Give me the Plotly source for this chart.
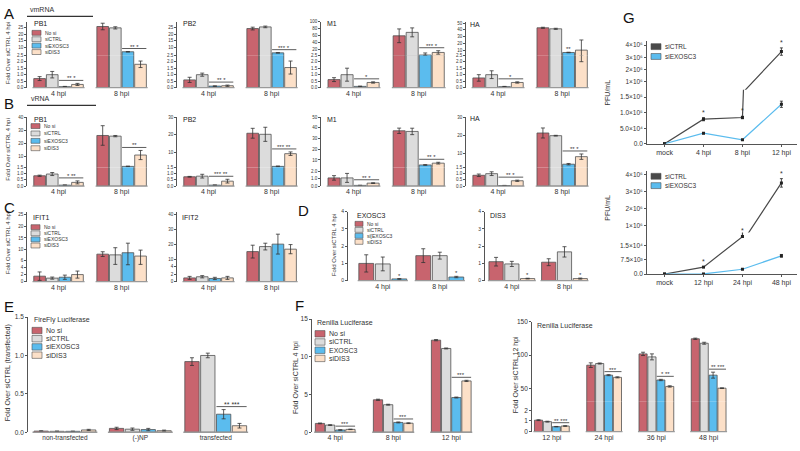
import plotly.graph_objects as go

W, H = 800, 451

# ---------------- categories / names ----------------
SERIES = ["No si", "siCTRL", "siEXOSC3", "siDIS3"]
SERIES_F = ["No si", "siCTRL", "EXOSC3", "siDIS3"]
SERIES_D_EXO = ["No si", "siCTRL", "siEXOSC3"]
SERIES_D_DIS = ["No si", "siCTRL", "siDIS3"]
HPI = ["4 hpi", "8 hpi"]
E_GROUPS = ["non-transfected", "(-)NP", "transfected"]
F_LEFT_GROUPS = ["4 hpi", "8 hpi", "12 hpi"]
F_RIGHT_GROUPS = ["12 hpi", "24 hpi", "36 hpi", "48 hpi"]
G_TOP_CATS = ["mock", "4 hpi", "8 hpi", "12 hpi"]
G_BOT_CATS = ["mock", "12 hpi", "24 hpi", "48 hpi"]
G_SERIES = ["siCTRL", "siEXOSC3"]

# ---------------- values (rows = series, cols = groups) ----------------
# A: vmRNA
vm_PB1 = [[0.70, 25.5], [1.00, 24.5], [0.08, 7.0], [0.25, 1.8]]
vm_PB1_err = [[0.15, 2.4], [0.25, 0.8], [0.02, 0.2], [0.08, 0.25]]
vm_PB2 = [[0.60, 24.0], [1.00, 25.2], [0.12, 6.2], [0.15, 1.55]]
vm_PB2_err = [[0.20, 1.0], [0.12, 0.6], [0.02, 0.15], [0.05, 0.5]]
vm_M1 = [[0.62, 59.0], [1.00, 69.0], [0.10, 3.0], [0.40, 10.5]]
vm_M1_err = [[0.15, 20.0], [0.50, 13.0], [0.02, 6.0], [0.05, 5.0]]
vm_M1_errm = [None, None, [0.02, 0.5], None]
vm_HA = [[0.75, 43.0], [1.00, 41.5], [0.08, 6.5], [0.40, 10.0]]
vm_HA_err = [[0.25, 0.8], [0.30, 0.8], [0.02, 0.4], [0.05, 15.0]]
vm_HA_errm = [None, None, None, [0.05, 8.0]]
# B: vRNA
v_PB1 = [[0.83, 26.0], [0.97, 25.5], [0.08, 2.3], [0.30, 11.0]]
v_PB1_err = [[0.05, 7.5], [0.12, 0.5], [0.01, 0.2], [0.12, 3.5]]
v_PB2 = [[0.75, 20.9], [0.80, 20.3], [0.08, 2.1], [0.40, 9.3]]
v_PB2_err = [[0.03, 2.8], [0.15, 4.0], [0.01, 0.2], [0.15, 1.0]]
v_M1 = [[1.10, 37.3], [1.10, 36.7], [0.10, 5.3], [0.40, 7.0]]
v_M1_err = [[0.30, 2.5], [0.60, 3.0], [0.02, 0.3], [0.05, 0.8]]
v_HA = [[0.87, 21.2], [1.00, 19.7], [0.05, 3.8], [0.43, 8.0]]
v_HA_err = [[0.10, 2.8], [0.15, 0.2], [0.01, 0.4], [0.05, 1.5]]
# C: IFIT
IFIT1 = [[1.55, 8.2], [1.00, 7.9], [1.25, 8.8], [2.00, 7.4]]
IFIT1_err = [[1.2, 1.0], [0.3, 3.0], [0.6, 4.0], [1.0, 2.5]]
IFIT2 = [[1.00, 15.4], [1.30, 18.7], [0.85, 20.3], [1.00, 17.0]]
IFIT2_err = [[0.4, 4.2], [0.3, 2.2], [0.3, 6.5], [0.4, 3.0]]
# D
D_EXOSC3 = [[1.00, 1.45], [0.97, 1.45], [0.10, 0.21]]
D_EXOSC3_err = [[0.50, 0.40], [0.40, 0.20], [0.02, 0.04]]
D_DIS3 = [[1.10, 1.07], [0.97, 1.67], [0.12, 0.12]]
D_DIS3_err = [[0.25, 0.20], [0.15, 0.30], [0.02, 0.03]]
# E
E_vals = [[0.015, 0.05, 0.92], [0.012, 0.04, 1.00], [0.012, 0.035, 0.235], [0.03, 0.02, 0.085]]
E_err = [[0.004, 0.015, 0.05], [0.004, 0.015, 0.03], [0.003, 0.015, 0.06], [0.008, 0.008, 0.03]]
# F
F_left = [[1.17, 4.3, 12.2], [0.95, 3.65, 11.1], [0.30, 1.3, 4.6], [0.38, 1.2, 6.8]]
F_left_err = [[0.05, 0.08, 0.08], [0.05, 0.06, 0.06], [0.03, 0.06, 0.06], [0.03, 0.05, 0.08]]
F_right = [[1.07, 85.0, 102.0, 124.7], [0.93, 87.5, 97.5, 118.0],
           [0.46, 70.0, 62.7, 70.0], [0.52, 66.7, 53.0, 50.4]]
F_right_err = [[0.04, 3.5, 2.5, 1.0], [0.04, 0.8, 4.5, 1.5],
               [0.02, 0.8, 1.0, 4.5], [0.03, 0.8, 1.0, 0.5]]
# G
G_top = [[0, 7.9e4, 8.45e4, 3.47e6], [0, 3.4e4, 1.3e4, 1.27e5]]
G_top_err = [[0, 5e3, 4e3, 3e5], [0, 2e3, 1e3, 1e4]]
G_bot = [[0, 3.6e3, 1.95e4, 3.51e6], [0, 50, 2.5e3, 9.5e3]]
G_bot_err = [[0, 200, 300, 2.5e5], [0, 20, 150, 700]]

# ---------------- styling ----------------
RED, GRAY, BLUE, PEACH = "#c8646e", "#dcdcdc", "#5bbcee", "#fce0c8"
COLORS = [RED, GRAY, BLUE, PEACH]
G_COLORS = ["#4a4a4a", "#5bbcee"]
OUTLINE = "#505050"
INK = "#333333"
AXC = "#555555"
FONT = "Liberation Sans, Arial, sans-serif"

fig = go.Figure()
layout_axes = {}
shapes, annotations = [], []
_n = [0]


def fx(x):
    return x / W


def fy(y):
    return 1 - y / H


def axis_pair(xpx, ypx, xrange, yrange, ytv, ytt, ysize, show_x=False, xsize=7, xline=False, xticks=''):
    _n[0] += 1
    n = _n[0]
    s = '' if n == 1 else str(n)
    xa = dict(domain=[fx(xpx[0]), fx(xpx[1])], range=list(xrange), anchor='y' + s,
              showgrid=False, zeroline=False, type='category')
    if show_x:
        xa.update(showticklabels=True, tickfont=dict(size=xsize, color=INK), ticks=xticks,
                  showline=xline, linecolor=AXC, linewidth=1, ticklen=2, tickcolor=AXC)
    else:
        xa.update(showticklabels=False, ticks='', showline=False)
    ya = dict(domain=[fy(ypx[1]), fy(ypx[0])], range=list(yrange), anchor='x' + s,
              showgrid=False, zeroline=False, showline=True, linecolor=AXC, linewidth=0.8,
              ticks='outside', ticklen=2, tickwidth=0.6, tickcolor=AXC,
              tickvals=ytv, ticktext=ytt, tickfont=dict(size=ysize, color=INK))
    layout_axes['xaxis' + s] = xa
    layout_axes['yaxis' + s] = ya
    return 'x' + s, 'y' + s


def seg(y, r, tv, tt=None):
    return dict(y=y, r=r, tv=tv, tt=tt if tt is not None else [str(v) for v in tv])


def pick_seg(segs, v):
    idx = 0
    for i, s in enumerate(segs):
        if i > 0 and v >= s['r'][0]:
            idx = i
    return idx


def bar_panel(xpx, segs, xrange, groups, names, colors, vals, errs, pitch, bw,
              sigs=(), errs_minus=None, gsize=7, ysize=4.5, ssize=6):
    ns = len(vals)
    offs = [(k - (ns - 1) / 2) * pitch for k in range(ns)]
    refs = []
    for i, s in enumerate(segs):
        xr, yr = axis_pair(xpx, s['y'], xrange, s['r'], s['tv'], s['tt'], ysize,
                           show_x=(i == 0), xsize=gsize)
        refs.append((xr, yr))
        lo = s['r'][0]
        for k in range(ns):
            em = errs[k]
            if errs_minus is not None and errs_minus[k] is not None:
                em = errs_minus[k]
            # in an upper (broken) segment, leave out bars that end below it
            keep = [i == 0 or v > lo for v in vals[k]]
            yv = [v if kp else None for v, kp in zip(vals[k], keep)]
            ep = [e if kp else 0 for e, kp in zip(errs[k], keep)]
            epm = [e if kp else 0 for e, kp in zip(em, keep)]
            fig.add_trace(go.Bar(
                x=groups, y=yv, name=names[k], offset=offs[k] - bw / 2, width=bw,
                xaxis=xr, yaxis=yr, showlegend=False,
                marker=dict(color=colors[k], line=dict(color=OUTLINE, width=0.8)),
                error_y=dict(type='data', symmetric=False, array=ep, arrayminus=epm,
                             color=INK, thickness=0.8, width=2)))
    xr0, yr0 = refs[0]
    for g in range(len(groups)):
        shapes.append(dict(type='line', xref=xr0, yref=yr0 + ' domain',
                           x0=g + offs[0] - bw / 2 - 0.02, x1=g + offs[-1] + bw / 2 + 0.02,
                           y0=0, y1=0, line=dict(color='#9a9a9a', width=1.3)))
    for g, txt, bars in sigs:
        anchor = max(vals[b][g] + errs[b][g] for b in bars)
        xr, yr = refs[pick_seg(segs, anchor)]
        x0 = g + offs[bars[0]] - bw / 2
        x1 = g + offs[bars[-1]] + bw / 2
        if len(bars) > 1:
            shapes.append(dict(type='line', xref=xr, yref=yr, x0=x0, x1=x1,
                               ysizemode='pixel', yanchor=anchor, y0=3, y1=3,
                               line=dict(color=INK, width=0.8)))
        annotations.append(dict(x=(x0 + x1) / 2, y=anchor, xref=xr, yref=yr, text=txt,
                                showarrow=False, yanchor='bottom',
                                yshift=0 if len(bars) > 1 else -2,
                                font=dict(size=ssize, color=INK)))
    return refs


def line_panel(xpx, segs, xrange, cats, names, colors, vals, errs, ysize=6.5, xsize=7):
    refs = []
    for i, s in enumerate(segs):
        xr, yr = axis_pair(xpx, s['y'], xrange, s['r'], s['tv'], s['tt'], ysize,
                           show_x=(i == 0), xsize=xsize, xline=(i == 0), xticks='outside')
        refs.append((xr, yr))
        for k in range(len(vals)):
            fig.add_trace(go.Scatter(
                x=cats, y=vals[k], name=names[k], mode='lines+markers',
                xaxis=xr, yaxis=yr, showlegend=False,
                line=dict(color=colors[k], width=1.2),
                marker=dict(size=3, color='#222222', symbol='square'),
                error_y=dict(type='data', array=errs[k], color='#222222', thickness=0.8, width=1.5)))
    for g in range(1, len(cats)):
        anchor = vals[0][g] + errs[0][g]
        xr, yr = refs[pick_seg(segs, anchor)]
        annotations.append(dict(x=cats[g], y=anchor, xref=xr, yref=yr, text='*',
                                showarrow=False, yanchor='bottom', yshift=0,
                                font=dict(size=7, color=INK)))
    return refs


def legend(x, ys, labels, colors, sw=9, sh=5, font=5, gap=2):
    for y, lab, c in zip(ys, labels, colors):
        shapes.append(dict(type='rect', xref='paper', yref='paper',
                           x0=fx(x), x1=fx(x + sw), y0=fy(y + sh / 2), y1=fy(y - sh / 2),
                           fillcolor=c, line=dict(color=OUTLINE, width=0.6)))
        annotations.append(dict(xref='paper', yref='paper', x=fx(x + sw + gap), y=fy(y),
                                text=lab, xanchor='left', yanchor='middle', showarrow=False,
                                font=dict(size=font, color=INK)))


def text(x, y, s, size=7, xanchor='left', angle=0, color=INK):
    annotations.append(dict(xref='paper', yref='paper', x=fx(x), y=fy(y), text=s,
                            xanchor=xanchor, yanchor='middle', showarrow=False, textangle=angle,
                            font=dict(size=size, color=color)))


def hline(x0, x1, y, color='#333333', width=1.2):
    shapes.append(dict(type='line', xref='paper', yref='paper', x0=fx(x0), x1=fx(x1),
                       y0=fy(y), y1=fy(y), line=dict(color=color, width=width)))


T25 = [0, 0.5, 1, 1.5, 2, 2.5]
T25L = ["0.0", "0.5", "1.0", "1.5", "2.0", "2.5"]
T2 = [0, 1, 2]
T2L = ["0.0", "1.0", "2.0"]
T15 = [0, 0.5, 1, 1.5]
T15L = ["0.0", "0.5", "1.0", "1.5"]
XR = (-0.5, 1.45)
P4, BW4 = 0.2, 0.185

# ---------------- Row A ----------------
A_lo, A_hi = (52, 85), (18, 52)
bar_panel((27, 150), [seg(A_lo, (0, 2.5), T25, T25L), seg(A_hi, (4.5, 29), [10, 15, 20, 25])],
          XR, HPI, SERIES, COLORS, vm_PB1, vm_PB1_err, P4, BW4,
          sigs=[(0, "** *", [2, 3]), (1, "** *", [2, 3])])
bar_panel((177, 300), [seg(A_lo, (0, 2.5), T25, T25L), seg(A_hi, (4.5, 29), [10, 15, 20, 25])],
          XR, HPI, SERIES, COLORS, vm_PB2, vm_PB2_err, P4, BW4,
          sigs=[(0, "** *", [2, 3]), (1, "*** *", [2, 3])])
bar_panel((321, 448), [seg(A_lo, (0, 2.5), T25, T25L), seg(A_hi, (2.5, 100), [20, 40, 60, 80, 100])],
          XR, HPI, SERIES, COLORS, vm_M1, vm_M1_err, P4, BW4, errs_minus=vm_M1_errm,
          sigs=[(0, "*", [2, 3]), (1, "*** *", [2, 3])])
bar_panel((466, 591), [seg(A_lo, (0, 2.5), T25, T25L), seg(A_hi, (2.5, 52), [10, 20, 30, 40, 50])],
          XR, HPI, SERIES, COLORS, vm_HA, vm_HA_err, P4, BW4, errs_minus=vm_HA_errm,
          sigs=[(0, "*", [2, 3]), (1, "**", [2])])

# ---------------- Row B ----------------
B_lo, B_hi = (166, 185), (115, 166)
bar_panel((27, 150), [seg(B_lo, (0, 1.5), T15, T15L), seg(B_hi, (1.5, 40), [10, 20, 30, 40])],
          XR, HPI, SERIES, COLORS, v_PB1, v_PB1_err, P4, BW4,
          sigs=[(0, "* **", [2, 3]), (1, "**", [2, 3])])
bar_panel((177, 300), [seg(B_lo, (0, 1.5), T15, T15L), seg(B_hi, (1.5, 30), [10, 20, 30])],
          XR, HPI, SERIES, COLORS, v_PB2, v_PB2_err, P4, BW4,
          sigs=[(0, "*** **", [2, 3]), (1, "*** **", [2, 3])])
bar_panel((321, 448), [seg(B_lo, (0, 2.5), T2, T2L), seg(B_hi, (3, 50), [10, 20, 30, 40, 50])],
          XR, HPI, SERIES, COLORS, v_M1, v_M1_err, P4, BW4,
          sigs=[(0, "** *", [2, 3]), (1, "** *", [2, 3])])
bar_panel((466, 591), [seg(B_lo, (0, 1.5), T15, T15L), seg(B_hi, (2, 30), [10, 20, 30])],
          XR, HPI, SERIES, COLORS, v_HA, v_HA_err, P4, BW4,
          sigs=[(0, "** *", [2, 3]), (1, "** *", [2, 3])])

# ---------------- Row C ----------------
bar_panel((27, 150), [seg((257, 282), (0, 7), [0, 2, 4, 6]),
                      seg((211, 257), (7, 26), [10, 15, 20, 25])],
          XR, HPI, SERIES, COLORS, IFIT1, IFIT1_err, P4, BW4)
bar_panel((177, 300), [seg((263, 282), (0, 5), [0, 2, 4]),
                       seg((211, 263), (8, 41.5), [10, 20, 30, 40])],
          XR, HPI, SERIES, COLORS, IFIT2, IFIT2_err, P4, BW4)

# ---------------- Row D ----------------
bar_panel((348, 470), [seg((211, 281), (0, 4), [0, 1, 2, 3, 4])], (-0.61, 1.53), HPI,
          SERIES_D_EXO, [RED, GRAY, BLUE], D_EXOSC3, D_EXOSC3_err, 0.29, 0.26,
          sigs=[(0, "*", [2]), (1, "*", [2])], ysize=5)
bar_panel((485, 595), [seg((211, 281), (0, 4), [0, 1, 2, 3, 4])], (-0.51, 1.58), HPI,
          SERIES_D_DIS, [RED, GRAY, PEACH], D_DIS3, D_DIS3_err, 0.3, 0.27,
          sigs=[(0, "*", [2]), (1, "*", [2])], ysize=5)

# ---------------- Row E ----------------
bar_panel((28, 270), [seg((318, 435), (0, 1.5), [0, 0.5, 1, 1.5], ["0.0", "0.5", "1.0", "1.5"])],
          (-0.49, 2.72), E_GROUPS, SERIES, COLORS, E_vals, E_err, 0.21, 0.19,
          sigs=[(2, "** ***", [2, 3])], gsize=6.5, ysize=6.5, ssize=7)

# ---------------- Row F ----------------
bar_panel((312, 482), [seg((320, 435), (0, 15), [0, 5, 10, 15])],
          (-0.4, 2.53), F_LEFT_GROUPS, SERIES_F, COLORS, F_left, F_left_err, 0.175, 0.16,
          sigs=[(0, "***", [2, 3]), (1, "***", [2, 3]), (2, "***", [2, 3])],
          gsize=7, ysize=6.5, ssize=6)
bar_panel((532, 740), [seg((404, 434.3), (0, 2.8), [0, 1, 2]),
                       seg((323, 404), (30, 150), [50, 100, 150])],
          (-0.38, 3.6), F_RIGHT_GROUPS, SERIES_F, COLORS, F_right, F_right_err, 0.17, 0.155,
          sigs=[(0, "** ***", [2, 3]), (1, "***", [2, 3]), (2, "* **", [2, 3]), (3, "** ***", [2, 3])],
          gsize=7, ysize=6.5, ssize=6)


# ---------------- Row G ----------------
SUPS = str.maketrans("0123456789", "⁰¹²³⁴⁵⁶⁷⁸⁹")


def sup(m, e):
    return f"{m}×10" + str(e).translate(SUPS)


line_panel((647, 797),
           [seg((87, 142), (0, 1.74e5), [0, 5e4, 1e5, 1.5e5],
                ["0.0", sup("5.0", 4), sup("1.0", 5), sup("1.5", 5)]),
            seg((38, 87), (0.36e6, 4.3e6), [1e6, 2e6, 3e6, 4e6],
                [sup(1, 6), sup(2, 6), sup(3, 6), sup(4, 6)])],
           (-0.45, 3.4), G_TOP_CATS, G_SERIES, G_COLORS, G_top, G_top_err)
line_panel((647, 797),
           [seg((232, 274.3), (0, 2.17e4), [0, 7.5e3, 1.5e4],
                ["0.0", sup("7.5", 3), sup("1.5", 4)]),
            seg((170, 232), (0.59e6, 4.19e6), [1e6, 2e6, 3e6, 4e6],
                [sup(1, 6), sup(2, 6), sup(3, 6), sup(4, 6)])],
           (-0.45, 3.4), G_BOT_CATS, G_SERIES, G_COLORS, G_bot, G_bot_err)

# ---------------- legends ----------------
legend(32, [29.3, 35.8, 42.3, 48.8], SERIES, COLORS)
legend(31, [124, 131.5, 139, 146.5], SERIES, COLORS)
legend(31, [226.7, 232.9, 239.1, 245.3], SERIES, COLORS)
legend(355, [223.3, 229.4, 235.5, 241.6], ["No si", "siCTRL", "si[EXOSC3", "siDIS3"], COLORS, sw=8)
text(32, 321, "FireFly Luciferase", size=7)
legend(32, [331.7, 340, 348.3, 356.7], SERIES, COLORS, sw=10, sh=6.5, font=7)
text(315, 323.5, "Renilla Luciferase", size=7)
legend(315, [335, 343.3, 351.7, 360], SERIES_F, COLORS, sw=10, sh=6.5, font=7)
text(535, 326.7, "Renilla Luciferase", size=7)
legend(651, [43.3, 53.3], G_SERIES, G_COLORS, sw=10, sh=6, font=6.5)
legend(651, [175, 184.5], G_SERIES, G_COLORS, sw=10, sh=6, font=6.5)

# ---------------- panel titles ----------------
for x, y, s in [(32, 20, "PB1"), (181, 20, "PB2"), (325, 20, "M1"), (468, 21, "HA"),
                (32, 117, "PB1"), (181, 117, "PB2"), (325, 117, "M1"), (468, 116, "HA"),
                (31, 217, "IFIT1"), (180, 217, "IFIT2"), (355, 215, "EXOSC3"), (488, 215, "DIS3")]:
    text(x, y, s, size=7, color="#222222")

# ---------------- y titles ----------------
text(8, 50, "Fold Over siCTRL 4 hpi", size=6, xanchor='center', angle=-90)
text(8, 148, "Fold Over siCTRL 4 hpi", size=6, xanchor='center', angle=-90)
text(8, 243, "Fold Over siCTRL 4 hpi", size=6, xanchor='center', angle=-90)
text(334, 245, "Fold Over siCTRL 4 hpi", size=6, xanchor='center', angle=-90)
text(8, 375, "Fold Over siCTRL (transfected)", size=7, xanchor='center', angle=-90)
text(296, 380, "Fold Over siCTRL 4 hpi", size=7, xanchor='center', angle=-90)
text(516, 377, "Fold Over siCTRL 12 hpi", size=7, xanchor='center', angle=-90)
text(608, 90, "PFU/mL", size=7, xanchor='center', angle=-90)
text(608, 207, "PFU/mL", size=7, xanchor='center', angle=-90)

# ---------------- headers & letters ----------------
text(28, 6, "vmRNA", size=7)
hline(27, 93, 12.5)
text(29, 96, "vRNA", size=7)
hline(27, 96, 103)
for x, y, s in [(2, 10, "A"), (2, 101, "B"), (2, 207, "C"), (296, 210, "D"),
                (2, 307, "E"), (293, 306, "F"), (621, 14, "G")]:
    text(x, y, s, size=15, color="#111111")

fig.update_layout(
    width=W, height=H, margin=dict(l=0, r=0, t=0, b=0),
    paper_bgcolor="white", plot_bgcolor="rgba(0,0,0,0)",
    barmode="overlay", showlegend=False,
    font=dict(family=FONT, color=INK),
    shapes=shapes, annotations=annotations,
    **layout_axes,
)
fig.write_html("out.html", config={"displayModeBar": False},
               post_script="document.body.style.margin='0';document.body.style.overflow='hidden';")
